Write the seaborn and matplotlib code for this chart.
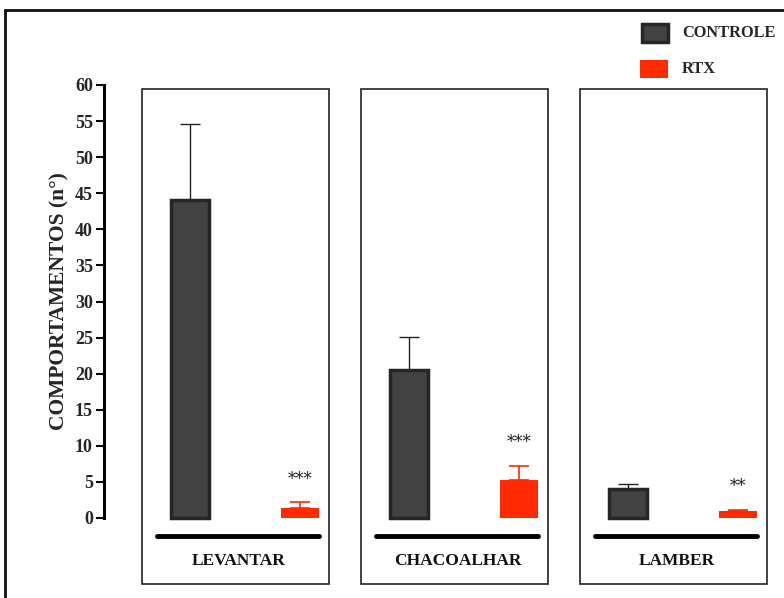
import matplotlib
matplotlib.use("Agg")
import matplotlib.pyplot as plt
from matplotlib.patches import Rectangle
from matplotlib.lines import Line2D
import seaborn as sns
import pandas as pd
import numpy as np

# Behaviour counts (mean + SEM) per group
categorias = ["LEVANTAR", "CHACOALHAR", "LAMBER"]
controle_media = [44.0, 20.5, 4.0]
controle_erro = [10.6, 4.6, 0.7]
rtx_media = [1.4, 5.3, 1.0]
rtx_erro = [0.8, 1.9, 0.1]
significancia = ["***", "***", "**"]
yticks = [0, 5, 10, 15, 20, 25, 30, 35, 40, 45, 50, 55, 60]

COR_CONTROLE = "#424242"
BORDA_CONTROLE = "#262626"
COR_RTX = "#ff2a00"

sns.set_theme(style="white")
plt.rcParams["font.family"] = ["Liberation Serif", "DejaVu Serif"]

df = pd.DataFrame({
    "grupo": categorias * 2,
    "condicao": ["CONTROLE"] * 3 + ["RTX"] * 3,
    "valor": controle_media + rtx_media,
})

W, H = 784, 598
fig = plt.figure(figsize=(W / 100, H / 100), dpi=100)

# axes spans from the y-axis spine to the right edge; 60 sits at px 85, 0 at px 518
px_unit = (518 - 85) / 60.0
ax_h = H - 85
ax = fig.add_axes([104 / W, 0, (W - 104) / W, ax_h / H])
ax.set_facecolor("none")

sns.barplot(data=df, x="grupo", y="valor", hue="condicao",
            palette={"CONTROLE": COR_CONTROLE, "RTX": COR_RTX}, saturation=1,
            width=1.0, errorbar=None, legend=False, ax=ax, zorder=3)

bar_w = 0.174
centros = []
for p in ax.patches:
    c = p.get_x() + p.get_width() / 2
    p.set_width(bar_w)
    p.set_x(c - bar_w / 2)
    centros.append(c)
    if p.get_facecolor()[0] < 0.5:
        p.set_edgecolor(BORDA_CONTROLE)
        p.set_linewidth(2.5)
    else:
        p.set_edgecolor("none")
centros = np.array(centros)
x_ctrl = centros[:3]
x_rtx = centros[3:]

ax.errorbar(x_ctrl, controle_media, yerr=[np.zeros(3), controle_erro], fmt="none",
            ecolor="#222222", elinewidth=1.0, capsize=7, capthick=1.0, zorder=2)
ax.errorbar(x_rtx, rtx_media, yerr=[np.zeros(3), rtx_erro], fmt="none",
            ecolor=COR_RTX, elinewidth=1.2, capsize=7, capthick=1.2, zorder=2)

# significance marks above the RTX bars
for x, m, e, s in zip(x_rtx, rtx_media, rtx_erro, significancia):
    ax.text(x, m + e + 3.2, s, ha="center", va="center", fontsize=12,
            family="DejaVu Serif", color="#222222")

ymin = -(H - 518) / px_unit
ax.set_ylim(ymin, 60)
ax.set_xlim(-(245 - 104) / 219, 2 + (W - 683) / 219)

# one framed panel per behaviour with a baseline rule and its name
for i, nome in enumerate(categorias):
    ax.add_patch(Rectangle((i - 0.47, -9.15), 0.855, 68.6, fill=False,
                           ec="#222222", lw=1.2, clip_on=False, zorder=1))
    ax.plot([i - 0.402, i + 0.338], [-2.5, -2.5], color="black", lw=3.5,
            solid_capstyle="round", clip_on=False, zorder=3)
    ax.text(i - 0.03, -5.96, nome, ha="center", va="center", fontsize=12.5,
            fontweight="bold", color="#111111")

# y axis
for side in ["top", "right", "bottom"]:
    ax.spines[side].set_visible(False)
ax.spines["left"].set_bounds(0, 60)
ax.spines["left"].set_linewidth(2.2)
ax.spines["left"].set_color("black")
ax.set_yticks(yticks)
ax.set_yticklabels([str(t) for t in yticks], fontsize=13, fontweight="bold")
ax.tick_params(axis="y", left=True, length=6, width=1.5, pad=2, color="black")
ax.set_xticks([])
ax.set_xlabel("")
ax.set_ylabel("COMPORTAMENTOS (n°)", fontsize=15.5, fontweight="bold")
ax.yaxis.set_label_coords(-(104 - 59) / (W - 104), (H - 301) / ax_h)
ax.yaxis.label.set_va("center")

# legend
def fx(px):
    return px / W

def fy(py):
    return 1 - py / H

fig.patches.append(Rectangle((fx(642), fy(42)), 26 / W, 18 / H, transform=fig.transFigure,
                             fc=COR_CONTROLE, ec=BORDA_CONTROLE, lw=2.5))
fig.patches.append(Rectangle((fx(640), fy(78)), 28 / W, 18 / H, transform=fig.transFigure,
                             fc=COR_RTX, ec="none"))
fig.text(fx(682), fy(33), "CONTROLE", ha="left", va="center", fontsize=11.8, fontweight="bold")
fig.text(fx(682), fy(69), "RTX", ha="left", va="center", fontsize=11.8, fontweight="bold")

# outer frame
fig.lines.append(Line2D([fx(5), fx(W)], [fy(10), fy(10)], transform=fig.transFigure,
                        color="#111111", lw=2))
fig.lines.append(Line2D([fx(5), fx(5)], [fy(10), fy(H)], transform=fig.transFigure,
                        color="#111111", lw=2))

fig.savefig("out.png", dpi=100)
